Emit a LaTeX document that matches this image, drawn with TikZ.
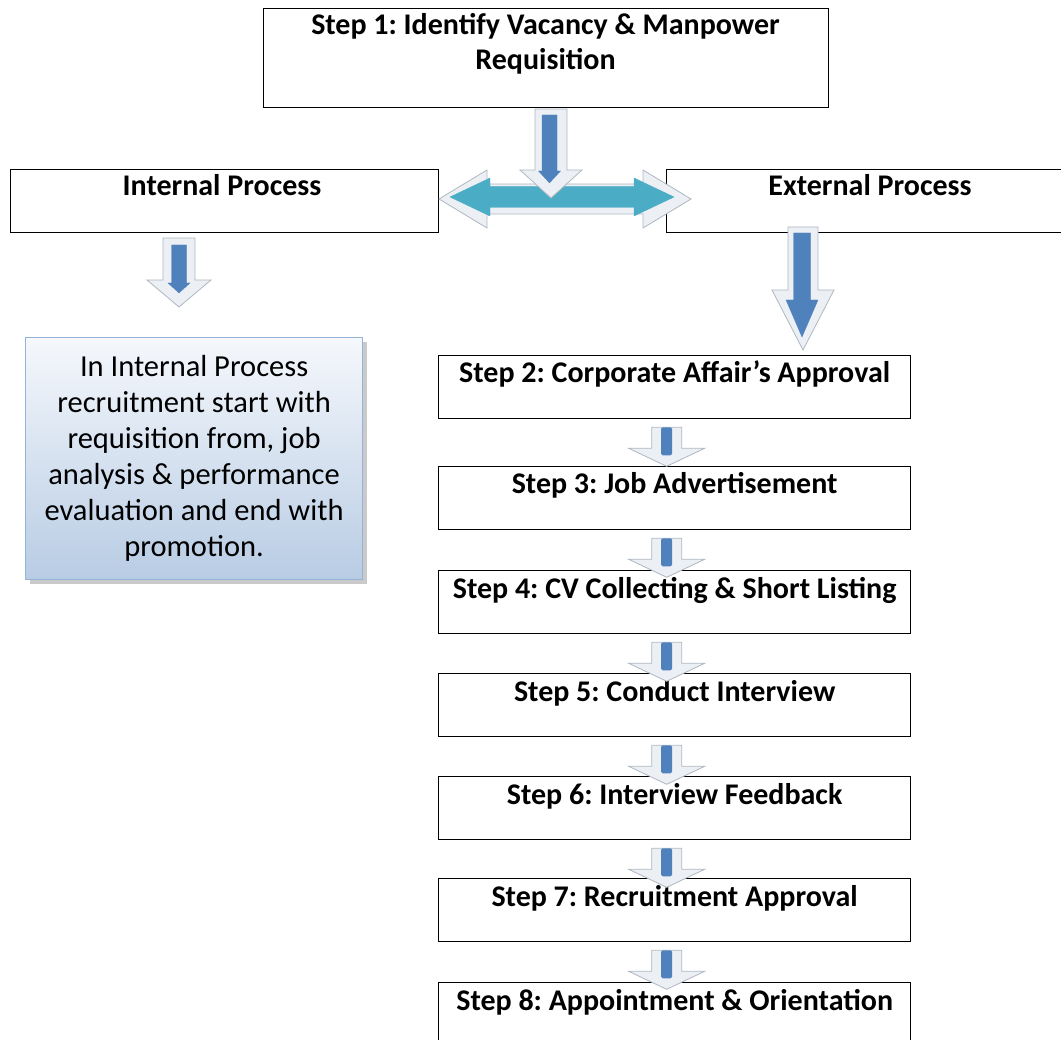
\documentclass[tikz,border=0pt]{standalone}
\usepackage{fontspec}
\setmainfont{Carlito}
\usetikzlibrary{shadows}
\definecolor{arrblue}{HTML}{4F81BD}
\definecolor{arrteal}{HTML}{4BACC6}
\definecolor{bevel}{HTML}{ECEFF3}
\definecolor{beveldk}{HTML}{AEB7C2}
\definecolor{noteborder}{HTML}{95B3D7}
\definecolor{notetop}{HTML}{F5F8FC}
\definecolor{notebot}{HTML}{B8CCE4}
\frenchspacing
\tikzset{
  box/.style={draw=black, line width=1.3pt, fill=white, inner sep=0pt, anchor=north west},
  lbl/.style={font=\bfseries\fontsize{30}{35}\selectfont, anchor=base, inner sep=0pt},
  note/.style={draw=noteborder, line width=1.2pt, top color=notetop, bottom color=notebot,
    inner sep=0pt, anchor=north west, align=center,
    font=\fontsize{30.5}{36}\selectfont,
    drop shadow={shadow xshift=4pt, shadow yshift=-4pt, fill=black!35, opacity=0.6}},
  outerarr/.style={fill=bevel, draw=beveldk, line width=0.8pt, line join=miter},
  innerarr/.style={fill=arrblue, draw=arrblue, line width=0.3pt},
  pics/dnarrow/.style args={#1/#2/#3/#4}{code={
    % origin = top centre; #1 length, #2 shaft half width, #3 head half width, #4 head length
    \filldraw (-#2,0) -- (-#2,#1-#4) -- (-#3,#1-#4) -- (0,#1) -- (#3,#1-#4) -- (#2,#1-#4) -- (#2,0) -- cycle;
  }},
  pics/hdarrow/.style args={#1/#2/#3/#4}{code={
    % origin = left tip; #1 length, #2 shaft half width, #3 head half width, #4 head length
    \filldraw (0,0) -- (#4,-#3) -- (#4,-#2) -- (#1-#4,-#2) -- (#1-#4,-#3) -- (#1,0)
      -- (#1-#4,#3) -- (#1-#4,#2) -- (#4,#2) -- (#4,#3) -- cycle;
  }}
}
\begin{document}
\begin{tikzpicture}[x=1pt,y=-1pt]
\useasboundingbox (0,0) rectangle (1061,1040);

% boxes
\node[box, minimum width=565, minimum height=99] (s1) at (263,8) {};
\node[lbl] (s1a) at (545.5,35) {Step 1: Identify Vacancy \& Manpower};
\node[lbl] (s1b) at (545.5,70) {Requisition};

\node[box, minimum width=428, minimum height=63] (int) at (10,169) {};
\node[lbl] (intt) at (222,196) {Internal Process};
\node[box, minimum width=410, minimum height=63] (ext) at (666,169) {};
\node[lbl] (extt) at (870,196) {External Process};

\foreach \n/\t/\txt in {s2/355/{Step 2: Corporate Affair’s Approval},
                        s3/466/{Step 3: Job Advertisement},
                        s4/570/{Step 4: CV Collecting \& Short Listing},
                        s5/673/{Step 5: Conduct Interview},
                        s6/776/{Step 6: Interview Feedback},
                        s7/878/{Step 7: Recruitment Approval},
                        s8/982/{Step 8: Appointment \& Orientation}}{
  \node[box, minimum width=472, minimum height=63] (\n) at (438,\t) {};
  \node[lbl] (\n t) at ([yshift=-28pt]\n.north) {\txt};
}

% note box
\node[note, minimum width=337, minimum height=242] (note) at (25,337)
  {In Internal Process\\recruitment start with\\requisition from, job\\analysis \& performance\\evaluation and end with\\promotion.};

% teal double arrow
\pic[outerarr] at (439,199) {hdarrow={252/15/29/48}};
\pic[fill=arrteal, draw=arrteal] at (450,197) {hdarrow={224/10.5/19/40}};

% step 1 down arrow
\pic[outerarr] at (551,109) {dnarrow={89/16/31/28}};
\pic[innerarr] at (549.5,115) {dnarrow={68/7.5/11/12}};

% internal arrow
\pic[outerarr] at (179,238) {dnarrow={69/16/32/27}};
\pic[innerarr] at (179,245) {dnarrow={48/7.5/11/10}};

% external arrow
\pic[outerarr] at (803,227) {dnarrow={123/15/31/60}};
\pic[innerarr] at (802,233) {dnarrow={104/8.5/16/37}};

% small step arrows
\foreach \a/\b in {s2/s3,s3/s4,s4/s5,s5/s6,s6/s7,s7/s8}{
  \path (\a.south) ++(-8,8) coordinate (\a top);
  \pic[outerarr] at (\a top) {dnarrow={39/15/38/18}};
  \fill[arrblue, rounded corners=1.5pt] ([xshift=-5.5pt]\a top) rectangle ([xshift=5.5pt,yshift=-28pt]\a top);
}
\end{tikzpicture}
\end{document}
